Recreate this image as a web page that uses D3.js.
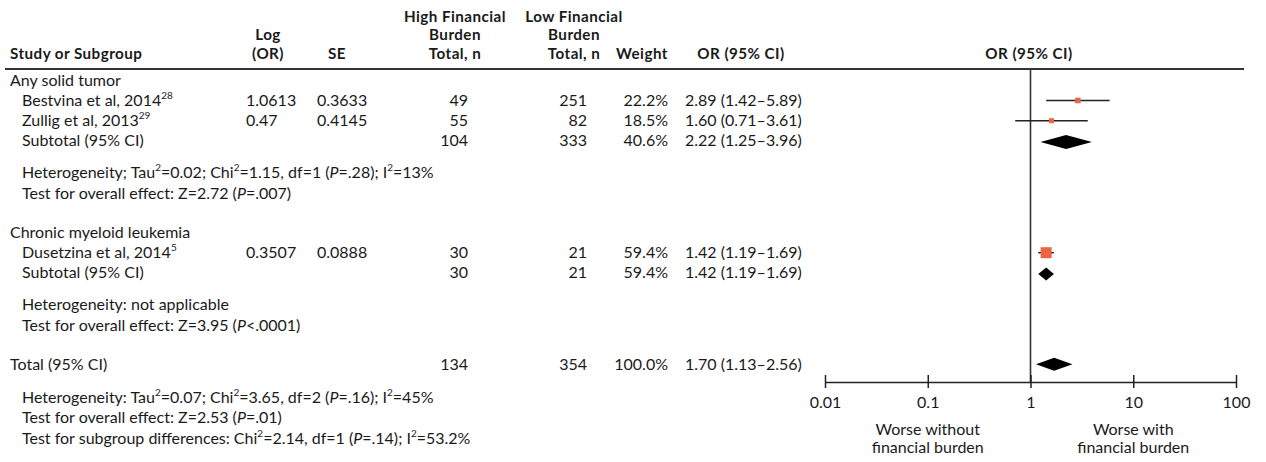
<!DOCTYPE html>
<html>
<head>
<meta charset="utf-8">
<script src="https://cdn.jsdelivr.net/npm/d3@7"></script>
<style>
  html, body { margin: 0; padding: 0; background: #fff; }
  svg { display: block; font-family: Lato, 'Noto Sans', sans-serif; }
</style>
</head>
<body>
<svg id="forest" width="1266" height="462"></svg>
<script>
// study level data
const studyNames = ['Bestvina et al, 2014^28^', 'Zullig et al, 2013^29^', 'Dusetzina et al, 2014^5^'];
const studyGroup = [0, 0, 1];
const logOR = ['1.0613', '0.47', '0.3507'];
const seVals = ['0.3633', '0.4145', '0.0888'];
const highN = [49, 55, 30];
const lowN = [251, 82, 21];
const weights = [22.2, 18.5, 59.4];
const orVals = [2.89, 1.60, 1.42];
const ciLow = [1.42, 0.71, 1.19];
const ciHigh = [5.89, 3.61, 1.69];

// subgroups
const groupNames = ['Any solid tumor', 'Chronic myeloid leukemia'];
const subHighN = [104, 30];
const subLowN = [333, 21];
const subWeights = [40.6, 59.4];
const subOR = [2.22, 1.42];
const subLow = [1.25, 1.19];
const subHigh = [3.96, 1.69];
const groupStats = [
  ['Heterogeneity; Tau^2^=0.02; Chi^2^=1.15, df=1 (_P_=.28); I^2^=13%', 'Test for overall effect: Z=2.72 (_P_=.007)'],
  ['Heterogeneity: not applicable', 'Test for overall effect: Z=3.95 (_P_<.0001)']
];

// overall
const totalHighN = 134;
const totalLowN = 354;
const totalWeight = 100.0;
const totalOR = [1.70, 1.13, 2.56];
const totalStats = [
  'Heterogeneity: Tau^2^=0.07; Chi^2^=3.65, df=2 (_P_=.16); I^2^=45%',
  'Test for overall effect: Z=2.53 (_P_=.01)',
  'Test for subgroup differences: Chi^2^=2.14, df=1 (_P_=.14); I^2^=53.2%'
];

const axisTicks = [0.01, 0.1, 1, 10, 100];
const axisLabels = [['Worse without', 'financial burden'], ['Worse with', 'financial burden']];

const svg = d3.select('#forest');
const FS = 16;
const FS_BOLD = 15.2;
const INK = '#1a1a1a';

const x = d3.scaleLog().domain([0.01, 100]).range([825, 1236]);
const boxSize = d3.scaleLinear().domain([18.5, 59.4]).range([5, 11]);

// draw text with ^sup^ and _italic_ markup
function richText(g, str, xPos, yPos, anchor = 'start', weight = 'normal') {
  const t = g.append('text')
    .attr('x', xPos).attr('y', yPos)
    .attr('text-anchor', anchor)
    .attr('font-size', weight === 'bold' ? FS_BOLD : FS)
    .attr('font-weight', weight)
    .attr('letter-spacing', weight === 'bold' ? 0.45 : null)
    .attr('fill', INK);
  const parts = str.split(/(\^[^^]*\^|_[^_]*_)/).filter((p) => p.length);
  let shifted = false;
  parts.forEach((p) => {
    if (p[0] === '^') {
      t.append('tspan').attr('font-size', 10).attr('dy', -7).text(p.slice(1, -1));
      shifted = true;
    } else {
      const s = t.append('tspan').text(p[0] === '_' ? p.slice(1, -1) : p);
      if (p[0] === '_') s.attr('font-style', 'italic');
      if (shifted) { s.attr('dy', 7); shifted = false; }
    }
  });
  return t;
}

// column positions
const COL = { name: 10, indent: 22, log: 246, se: 317, high: 468, low: 587, weight: 668, or: 685 };
const fmtOR = (o, l, h) => `${o.toFixed(2)} (${l.toFixed(2)}–${h.toFixed(2)})`;

// header
const head = svg.append('g');
richText(head, 'Study or Subgroup', COL.name, 58.5, 'start', 'bold');
[['Log', 268, 40], ['(OR)', 268, 58.5], ['SE', 337, 58.5],
 ['High Financial', 455, 21.5], ['Burden', 455, 40], ['Total, n', 455, 58.5],
 ['Low Financial', 574, 21.5], ['Burden', 574, 40], ['Total, n', 574, 58.5],
 ['Weight', 642, 58.5], ['OR (95% CI)', 741, 58.5], ['OR (95% CI)', 1029, 58.5]]
  .forEach(([s, hx, hy]) => richText(head, s, hx, hy, 'middle', 'bold'));

svg.append('line')
  .attr('x1', 5).attr('x2', 1244).attr('y1', 69).attr('y2', 69)
  .attr('stroke', '#333').attr('stroke-width', 2);

// reference line at OR = 1
svg.append('line')
  .attr('x1', x(1)).attr('x2', x(1)).attr('y1', 69).attr('y2', 382)
  .attr('stroke', '#333').attr('stroke-width', 1.6);

const body = svg.append('g');
const plot = svg.append('g');
const BASE = 5.5;

function numbers(y, h, l, w, or) {
  richText(body, String(h), COL.high, y + BASE, 'end');
  richText(body, String(l), COL.low, y + BASE, 'end');
  richText(body, w.toFixed(1) + '%', COL.weight, y + BASE, 'end');
  richText(body, or, COL.or, y + BASE);
}

function diamond(y, o, l, h, half) {
  plot.append('path')
    .attr('d', `M${x(l)},${y}L${x(o)},${y - half}L${x(h)},${y}L${x(o)},${y + half}Z`)
    .attr('fill', '#000');
}

let y = 80;
groupNames.forEach((gName, gi) => {
  richText(body, gName, COL.name, y + BASE);
  y += 20.5;
  studyNames.forEach((name, i) => {
    if (studyGroup[i] !== gi) return;
    richText(body, name, COL.indent, y + BASE);
    richText(body, logOR[i], COL.log, y + BASE);
    richText(body, seVals[i], COL.se, y + BASE);
    numbers(y, highN[i], lowN[i], weights[i], fmtOR(orVals[i], ciLow[i], ciHigh[i]));
    plot.append('line')
      .attr('x1', x(ciLow[i])).attr('x2', x(ciHigh[i]))
      .attr('y1', y).attr('y2', y)
      .attr('stroke', '#222').attr('stroke-width', 1.5);
    const s = boxSize(weights[i]);
    plot.append('rect')
      .attr('x', x(orVals[i]) - s / 2).attr('y', y - s / 2)
      .attr('width', s).attr('height', s)
      .attr('fill', '#ec6441');
    y += 20.2;
  });
  richText(body, 'Subtotal (95% CI)', COL.indent, y + BASE);
  numbers(y, subHighN[gi], subLowN[gi], subWeights[gi], fmtOR(subOR[gi], subLow[gi], subHigh[gi]));
  diamond(y + 1, subOR[gi], subLow[gi], subHigh[gi], gi === 0 ? 7 : 6.5);
  y += 32;
  groupStats[gi].forEach((s) => {
    richText(body, s, COL.indent, y + BASE);
    y += 20.3;
  });
  y += 18.7;
});

richText(body, 'Total (95% CI)', COL.name, y + BASE);
numbers(y, totalHighN, totalLowN, totalWeight, fmtOR(...totalOR));
diamond(y, totalOR[0], totalOR[1], totalOR[2], 6.5);
y += 33;
totalStats.forEach((s) => {
  richText(body, s, COL.indent, y + BASE);
  y += 20.5;
});

// axis
const axis = svg.append('g')
  .attr('transform', 'translate(0,382)')
  .call(d3.axisBottom(x).tickValues(axisTicks).tickFormat((d) => String(d)).tickSize(6).tickSizeOuter(0).tickPadding(9));
axis.select('.domain').attr('stroke', '#222').attr('stroke-width', 1.5);
axis.selectAll('.tick line').attr('y1', -7).attr('stroke', '#222').attr('stroke-width', 1.5);
axis.selectAll('.tick text')
  .attr('font-size', FS).attr('font-family', 'Lato, sans-serif').attr('fill', INK);

axisLabels.forEach((lines, i) => {
  const cx = i === 0 ? x(0.1) : x(10);
  lines.forEach((l, j) => richText(svg, l, cx, 435 + j * 18, 'middle'));
});
</script>
</body>
</html>
